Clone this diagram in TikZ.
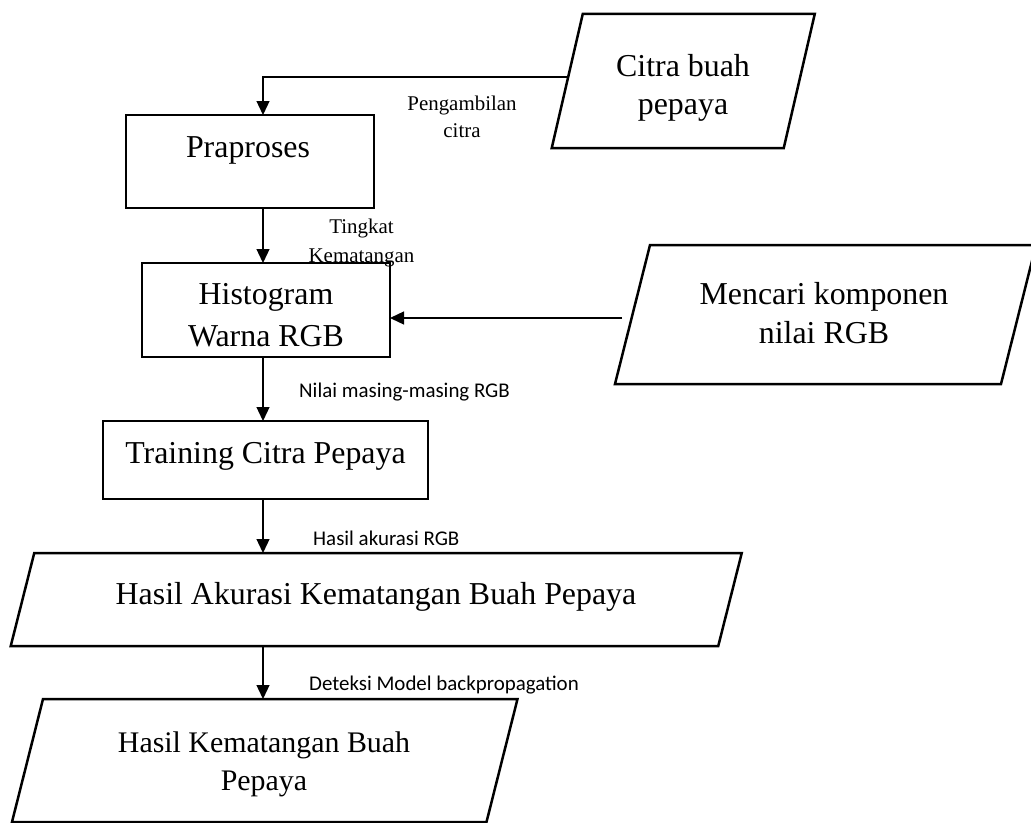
\documentclass[tikz,border=0pt]{standalone}
\usepackage{fontspec}
\setmainfont{Liberation Serif}
\newfontfamily\labelsans{Carlito}
\usetikzlibrary{arrows.meta}
\begin{document}
\begin{tikzpicture}[x=1bp,y=-1bp,
  box/.style={draw, line width=2.5bp, inner sep=0pt, outer sep=0pt},
  slantarea/.style={inner sep=0pt, outer sep=0pt},
  outline/.style={line width=2.5bp, line join=miter},
  flow/.style={line width=1.3bp, -{Triangle[length=14bp,width=13bp]}},
  bigtext/.style={font=\fontsize{32}{#1}\selectfont, align=center, inner sep=0pt, anchor=base},
  bigtext/.default=38,
  smallserif/.style={font=\fontsize{21}{#1}\selectfont, align=center, inner sep=0pt, anchor=base},
  smallserif/.default=27,
  smallsans/.style={font=\labelsans\fontsize{21}{25}\selectfont, inner sep=0pt, anchor=base west}
]
\useasboundingbox[fill=white] (0,0) rectangle (1031,823);

% reference coordinates for the flow column and free connector ends
\coordinate (col) at (263,0);
\coordinate (citraL) at (568,77);
\coordinate (mcL) at (622,318);

% process boxes
\node[box, minimum width=248bp, minimum height=93bp] (prap) at (250,161.5) {};
\node[box, minimum width=248bp, minimum height=94bp] (hist) at (266,310) {};
\node[box, minimum width=325bp, minimum height=78bp] (train) at (265.5,460) {};

% input/output areas (parallelograms drawn from the area corners)
\node[slantarea, minimum width=232bp, minimum height=134bp] (citra) at (683.25,81) {};
\draw[outline] ([xshift=15.5bp]citra.north west) -- ([xshift=15.5bp]citra.north east)
  -- ([xshift=-15.5bp]citra.south east) -- ([xshift=-15.5bp]citra.south west) -- cycle;

\node[slantarea, minimum width=386bp, minimum height=139bp] (mencari) at (825.5,314.5) {};
\draw[outline] ([xshift=17.5bp]mencari.north west) -- ([xshift=17.5bp]mencari.north east)
  -- ([xshift=-17.5bp]mencari.south east) -- ([xshift=-17.5bp]mencari.south west) -- cycle;

\node[slantarea, minimum width=707.5bp, minimum height=93bp] (akurasi) at (376.25,599.5) {};
\draw[outline] ([xshift=11.75bp]akurasi.north west) -- ([xshift=11.75bp]akurasi.north east)
  -- ([xshift=-11.75bp]akurasi.south east) -- ([xshift=-11.75bp]akurasi.south west) -- cycle;

\node[slantarea, minimum width=474.5bp, minimum height=123bp] (hasil) at (264.75,760.5) {};
\draw[outline] ([xshift=15.5bp]hasil.north west) -- ([xshift=15.5bp]hasil.north east)
  -- ([xshift=-15.5bp]hasil.south east) -- ([xshift=-15.5bp]hasil.south west) -- cycle;

% connectors
\draw[flow] (citraL) -| (col |- prap.north);
\draw[flow] (prap.south -| col) -- (hist.north -| col);
\draw[flow] (hist.south -| col) -- (train.north -| col);
\draw[flow] (train.south -| col) -- (akurasi.north -| col);
\draw[flow] (akurasi.south -| col) -- (hasil.north -| col);
\draw[flow] (mcL) -- (hist.east |- mcL);

% texts of the shapes (multi-line nodes are placed by their last baseline)
\node[bigtext=38] (citra-t) at (683,114) {Citra buah\\pepaya};
\node[bigtext] (prap-t) at (248,157) {Praproses};
\node[bigtext=42] (hist-t) at (266,346) {Histogram\\Warna RGB};
\node[bigtext=39] (mencari-t) at (824,343) {Mencari komponen\\nilai RGB};
\node[bigtext] (train-t) at (265.5,463) {Training Citra Pepaya};
\node[bigtext] (akurasi-t) at (376,604) {Hasil Akurasi Kematangan Buah Pepaya};
\node[bigtext, font=\fontsize{30}{38}\selectfont] (hasil-t) at (264,790) {Hasil Kematangan Buah\\Pepaya};

% connector labels
\node[smallserif=27] (lbl-ambil) at (462,137) {Pengambilan\\citra};
\node[smallserif=29] (lbl-tingkat) at (361.5,262) {Tingkat\\Kematangan};
\node[smallsans] (lbl-nilai) at (299,397) {Nilai masing-masing RGB};
\node[smallsans] (lbl-akurasi) at (313,545) {Hasil akurasi RGB};
\node[smallsans] (lbl-deteksi) at (309,690) {Deteksi Model backpropagation};
\end{tikzpicture}
\end{document}
